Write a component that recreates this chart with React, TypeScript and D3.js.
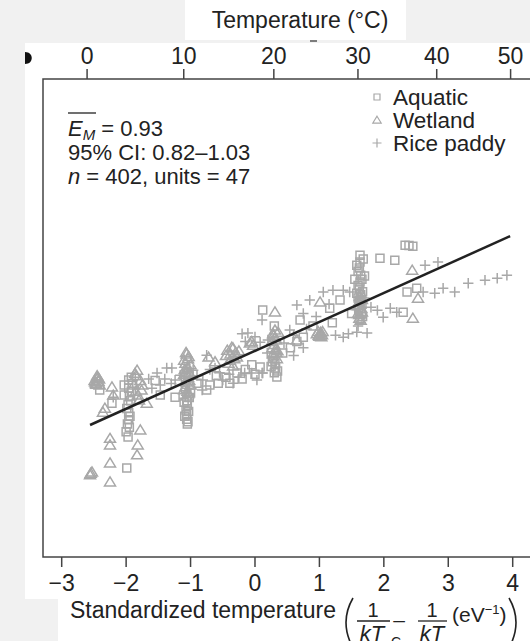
import React from "react";
import * as d3 from "d3";

const W = 530;
const H = 641;

// Axis ticks
const xTicks = [-3, -2, -1, 0, 1, 2, 3, 4];
const celsiusTicks = [0, 10, 20, 30, 40, 50];
const TC_K = 291.0; // standardization temperature (K)
const K_INV = 11604.5; // 1/k in K/eV

// Fit
const slopeEM = 0.93;
const fitX = [-2.56, 3.96];

// Legend
const legendLabels = ["Aquatic", "Wetland", "Rice paddy"];

// Data: [standardized temperature, ln rate (arbitrary offset)]
const aquatic: [number, number][] = [
  [-2.22, -1.68], [-1.99, -3.76], [-2.41, -1.26],
  [-1.96, -0.94], [-1.96, -1.2], [-1.95, -1.45], [-1.97, -1.73], [-1.96, -1.99], [-1.96, -2.21],
  [-1.95, -2.45], [-1.97, -2.77], [-2.03, -1.1], [-2.03, -1.42], [-1.9, -1.05], [-1.92, -1.3],
  [-1.93, -1.6], [-1.99, -1.85], [-1.94, -2.1], [-1.98, -2.35], [-1.92, -0.85], [-2.0, -2.6],
  [-1.47, -1.42], [-1.55, -0.95], [-1.24, -1.49],
  [-1.06, -1.6], [-1.05, -1.75], [-1.07, -1.9], [-1.06, -2.05], [-1.06, -2.2], [-1.05, -2.35],
  [-1.08, -1.2], [-1.04, -0.8], [-1.02, -1.5], [-1.1, -1.65], [-1.03, -1.95], [-1.09, -2.1],
  [-1.04, -2.28], [-1.08, -0.95], [-1.0, -1.35],
  [-0.75, -1.26], [-0.9, -1.04], [-0.57, -1.04], [-0.39, -1.04], [-0.28, -0.71], [0.08, -0.52],
  [-0.2, -0.9], [-0.6, -0.8], [-0.45, -0.85], [-0.15, -0.6], [-0.05, -0.45], [0.0, -0.75], [-0.7, -1.1],
  [0.31, -0.4], [0.32, -0.55], [0.34, -0.84], [0.29, -0.2], [0.3, 0.8],
  [0.27, -0.35], [0.35, -0.65], [0.3, -0.7], [0.25, -0.5],
  [0.43, -0.07], [0.75, 0.44], [0.65, 0.3], [0.12, 1.31], [1.16, 1.37], [1.32, 1.63], [0.7, 0.99], [0.55, 0.1],
  [1.5, 1.2], [0.9, 0.8], [1.2, 0.9],
  [1.63, 3.07], [1.63, 2.85], [1.62, 2.66], [1.64, 2.43], [1.63, 2.21], [1.62, 1.99], [1.64, 1.8],
  [1.63, 1.6], [1.61, 1.4], [1.65, 1.2], [1.63, 1.0], [1.55, 2.3], [1.7, 2.4], [1.58, 1.85],
  [1.6, 2.55], [1.66, 2.3], [1.6, 2.1], [1.67, 1.9], [1.6, 1.7], [1.66, 1.5], [1.61, 1.3],
  [1.67, 1.1], [1.58, 2.75], [1.68, 2.95],
  [1.94, 2.97], [2.17, 2.91], [2.33, 3.39], [2.45, 3.36], [2.39, 3.38], [2.36, 1.89], [2.51, 2.01], [2.3, 1.24],
];

const wetland: [number, number][] = [
  [-2.45, -0.88], [-2.43, -0.98], [-2.47, -1.05], [-2.41, -1.1], [-2.45, -0.8], [-2.49, -0.95],
  [-2.42, -0.9], [-2.48, -1.0], [-2.44, -0.85], [-2.46, -1.07],
  [-2.22, -1.16], [-2.2, -1.42], [-2.33, -1.84], [-2.36, -1.97], [-2.25, -2.81], [-2.25, -3.02],
  [-2.25, -3.6], [-2.25, -4.21], [-2.53, -3.89], [-2.56, -3.98], [-2.55, -3.93],
  [-1.78, -2.54], [-1.82, -3.02], [-1.83, -3.34],
  [-1.83, -0.62], [-1.85, -0.8], [-1.78, -0.95], [-1.88, -1.1], [-1.76, -1.26], [-1.82, -1.42],
  [-1.8, -1.58], [-1.86, -0.72], [-1.68, -1.68], [-1.75, -1.1], [-1.85, -1.3],
  [-1.06, -0.1], [-1.04, -0.25], [-1.08, -0.4], [-1.05, -0.55], [-1.07, -0.7], [-1.04, -0.85],
  [-1.06, -1.0], [-1.08, -1.15], [-1.05, -1.3], [-1.06, -1.45], [-1.03, -0.18], [-1.09, -0.6], [-1.02, -0.95],
  [-1.1, -0.3], [-1.0, -0.45], [-1.1, -0.75], [-1.0, -1.1], [-1.1, -1.25], [-1.02, -0.7], [-1.07, -0.05], [-1.04, -1.38],
  [-0.43, 0.02], [-0.34, 0.09], [-0.28, -0.2], [-0.39, -0.3], [-0.34, -0.49], [-0.08, 0.25],
  [-0.03, 0.18], [-0.45, -0.15], [-0.3, -0.05], [-0.72, -0.2], [-0.62, -0.35],
  [-0.38, -0.1], [-0.32, -0.25], [-0.36, 0.12], [-0.41, -0.4], [-0.25, 0.0], [-0.05, 0.3],
  [0.31, 0.67], [0.29, 0.5], [0.33, 0.35], [0.3, 0.2], [0.32, 0.05], [0.28, -0.1], [0.34, -0.25],
  [0.31, 0.42], [0.27, 0.1], [0.36, 0.6], [0.26, 0.3], [0.35, 0.0], [0.28, 0.55], [0.33, -0.05],
  [0.65, 0.35], [0.31, 1.25], [1.01, 1.57],
  [1.01, 0.57], [0.98, 0.62], [1.04, 0.52], [1.0, 0.47], [0.96, 0.55], [1.05, 0.62],
  [1.02, 0.6], [0.99, 0.5], [1.03, 0.45],
  [1.63, 1.75], [1.61, 1.56], [1.65, 1.36], [1.62, 1.17], [1.64, 0.98], [1.6, 1.45], [1.66, 1.25],
  [1.63, 1.5], [1.6, 1.2], [1.66, 1.65], [1.62, 1.05], [1.64, 1.85],
  [2.44, 2.59], [2.53, 1.69], [2.45, 1.05],
];

const rice: [number, number][] = [
  [-2.2, -1.49], [-1.52, -0.71], [-1.47, -1.1], [-1.29, -0.55], [-1.65, -0.9], [-1.6, -1.2],
  [-1.37, -0.55], [-1.24, -0.94], [-0.81, -0.94], [-0.82, -1.26], [-0.96, -0.62], [-0.75, -0.14],
  [-1.16, -0.78], [-1.06, -0.6], [-1.06, -1.2], [-0.62, -0.55],
  [-1.4, -0.9], [-1.3, -1.05], [-0.9, -0.8], [-0.7, -0.6], [-0.55, -0.7], [-0.4, -0.75], [-0.25, -0.85],
  [-0.5, -0.94], [-0.34, -1.04], [-0.11, 0.57], [0.08, 0.28], [-0.05, -0.71], [0.11, -0.71],
  [-0.16, -0.71], [0.03, -0.94], [-0.2, 0.55], [-0.15, 0.3],
  [0.0, 0.45], [0.2, 0.35], [0.45, 0.25], [0.6, 0.5], [0.8, 0.7], [0.95, 1.1], [0.75, 1.2],
  [1.15, 1.5], [1.25, 0.5], [1.45, 0.55], [0.6, -0.15], [0.75, 0.1],
  [0.19, -0.07], [0.12, -0.71], [0.54, 0.67], [0.11, 0.99], [0.65, 1.47], [0.85, 1.63], [1.06, 1.89],
  [1.21, 1.95], [1.37, 1.95], [1.47, 1.89], [1.37, 0.44], [1.58, 0.6], [1.74, 0.57],
  [1.63, 1.5], [1.66, 1.1], [1.6, 0.8], [1.7, 1.7], [1.9, 1.3],
  [2.64, 2.75], [2.84, 2.85], [2.92, 2.01], [3.1, 1.89], [3.31, 2.17], [3.57, 2.27], [3.76, 2.33],
  [3.91, 2.43], [2.61, 1.89], [2.79, 1.85], [2.2, 1.24], [1.99, 1.08], [2.1, 1.37], [1.8, 1.4],
];

const FONT = "'Liberation Sans', Arial, Helvetica, sans-serif";
const GREY = "#a8a8a8";
const INK = "#222";
const BG = "#f1f1f1";

const sqPath = (s: number) => `M${-s},${-s}h${2 * s}v${2 * s}h${-2 * s}Z`;
const triPath = (s: number) => `M0,${-s}L${s * 1.1},${s * 0.8}L${-s * 1.1},${s * 0.8}Z`;
const crossPath = (s: number) => `M${-s},0h${2 * s}M0,${-s}v${2 * s}`;

export default function App() {
  const frame = { left: 43, top: 79, right: 545, bottom: 557 };
  const x = d3.scaleLinear().domain([-3, 4]).range([61.7, 512.7]);
  const y = d3.scaleLinear().domain([-6.62, 8.73]).range([frame.bottom, frame.top]);
  const toStd = (c: number) => K_INV * (1 / TC_K - 1 / (c + 273.15));
  const fitLine = d3.line<number>().x((d) => x(d)).y((d) => y(slopeEM * d));

  const markerStyle = { fill: "none", stroke: GREY, strokeWidth: 1.5 };

  return (
    <svg width={W} height={H} style={{ display: "block", position: "absolute", left: 0, top: 0 }} fontFamily={FONT}>
      <style>{"body{margin:0}"}</style>
      <rect x={0} y={0} width={W} height={H} fill={BG} />
      {/* white panels */}
      <rect x={185} y={0} width={221} height={40} fill="#fff" />
      <rect x={25} y={43} width={W - 25} height={556} fill="#fff" />
      <rect x={58} y={599} width={W - 58} height={H - 599} fill="#fff" />

      {/* title */}
      <text x={300} y={28} textAnchor="middle" fontSize={23} fill={INK}>Temperature (°C)</text>
      <line x1={310} x2={317} y1={41} y2={41} stroke="#555" strokeWidth={1.5} />
      {/* cut-off panel letter */}
      <path d="M25,52 C34,52 34,64 25,64 Z" fill="#111" />

      <clipPath id="plotclip">
        <rect x={frame.left} y={frame.top} width={frame.right - frame.left} height={frame.bottom - frame.top} />
      </clipPath>

      {/* data */}
      <g clipPath="url(#plotclip)">
        {aquatic.map((d, i) => (
          <path key={"a" + i} d={sqPath(4)} transform={`translate(${x(d[0])},${y(d[1])})`} {...markerStyle} />
        ))}
        {wetland.map((d, i) => (
          <path key={"w" + i} d={triPath(5)} transform={`translate(${x(d[0])},${y(d[1])})`} {...markerStyle} />
        ))}
        {rice.map((d, i) => (
          <path key={"r" + i} d={crossPath(5.2)} transform={`translate(${x(d[0])},${y(d[1])})`} {...markerStyle} />
        ))}
        <path d={fitLine(fitX) || ""} fill="none" stroke={INK} strokeWidth={2.5} />
      </g>

      {/* frame */}
      <rect x={frame.left} y={frame.top} width={frame.right - frame.left} height={frame.bottom - frame.top}
        fill="none" stroke="#444" strokeWidth={1.5} />

      {/* bottom axis */}
      {xTicks.map((t) => (
        <g key={"bx" + t} transform={`translate(${x(t)},0)`}>
          <line y1={frame.bottom} y2={frame.bottom + 10} stroke="#444" strokeWidth={1.5} />
          <text y={591} textAnchor="middle" fontSize={23} fill={INK}>{t < 0 ? "\u2212" + Math.abs(t) : String(t)}</text>
        </g>
      ))}

      {/* top axis */}
      {celsiusTicks.map((c) => (
        <g key={"tx" + c} transform={`translate(${x(toStd(c))},0)`}>
          <line y1={frame.top - 10} y2={frame.top} stroke="#444" strokeWidth={1.5} />
          <text y={64} textAnchor="middle" fontSize={23} fill={INK}>{c}</text>
        </g>
      ))}

      {/* annotation */}
      <g fontSize={22} fill={INK}>
        <text x={68} y={136}>
          <tspan fontStyle="italic">E</tspan>
          <tspan fontStyle="italic" fontSize={15} dy={4}>M</tspan>
          <tspan dy={-4}> = 0.93</tspan>
        </text>
        <line x1={68} x2={96} y1={113} y2={113} stroke={INK} strokeWidth={1.3} />
        <text x={68} y={160}>95% CI: 0.82–1.03</text>
        <text x={68} y={184}>
          <tspan fontStyle="italic">n</tspan> = 402, units = 47
        </text>
      </g>

      {/* legend */}
      {legendLabels.map((lab, i) => (
        <g key={lab} transform={`translate(0,${97 + i * 23})`}>
          <path
            d={i === 0 ? sqPath(3) : i === 1 ? triPath(3.8) : crossPath(4.5)}
            transform="translate(377,0)"
            fill="none" stroke={GREY} strokeWidth={1.2}
          />
          <text x={393} y={8} fontSize={22.5} fill={INK}>{lab}</text>
        </g>
      ))}

      {/* bottom title */}
      <g fill={INK}>
        <text x={70} y={618} fontSize={23}>Standardized temperature</text>
        <path d="M353,598 Q339,622 353,648" fill="none" stroke={INK} strokeWidth={1.6} />
        <text x={373} y={617} fontSize={20} textAnchor="middle">1</text>
        <line x1={357} x2={390} y1={621} y2={621} stroke={INK} strokeWidth={1.3} />
        <text x={372} y={641} fontSize={22} textAnchor="middle" fontStyle="italic">kT</text>
        <text x={391} y={647} fontSize={14}>C</text>
        <text x={399} y={627} fontSize={21} textAnchor="middle">–</text>
        <text x={432} y={617} fontSize={20} textAnchor="middle">1</text>
        <line x1={418} x2={447} y1={621} y2={621} stroke={INK} strokeWidth={1.3} />
        <text x={432} y={641} fontSize={22} textAnchor="middle" fontStyle="italic">kT</text>
        <text x={452} y={622} fontSize={21}>
          (eV<tspan fontSize={13} dy={-8}>−1</tspan><tspan dy={8}>)</tspan>
        </text>
        <path d="M509,598 Q523,622 509,648" fill="none" stroke={INK} strokeWidth={1.6} />
      </g>
    </svg>
  );
}
